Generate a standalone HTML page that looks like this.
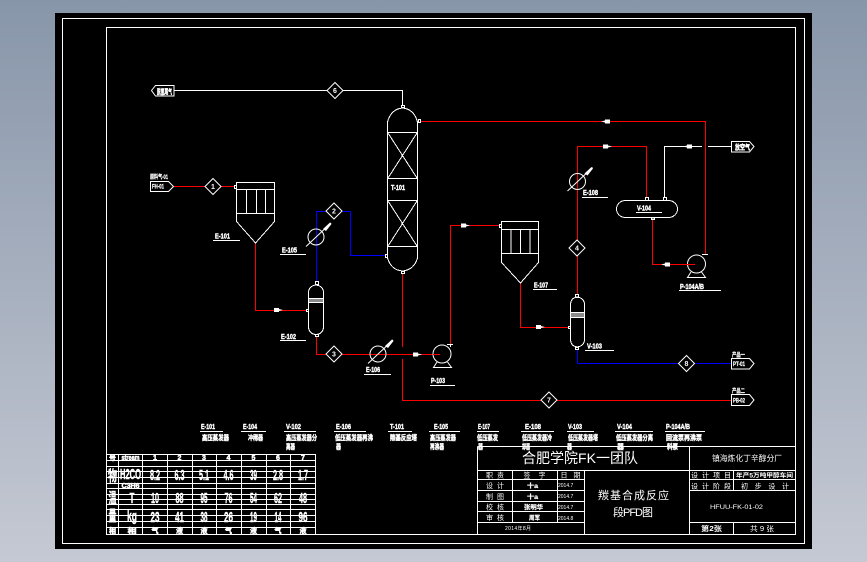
<!DOCTYPE html>
<html><head><meta charset="utf-8"><style>
html,body{margin:0;padding:0;width:867px;height:562px;overflow:hidden}
body{background:linear-gradient(180deg,#8896aa 0,#c5c9d3 100%)}
svg{display:block;position:absolute;left:0;top:0}
text{font-family:"Liberation Sans","Noto Sans CJK SC",sans-serif;fill:#fff}
.w{fill:none;stroke:#fff;stroke-width:1}
.r{fill:none;stroke:#f00;stroke-width:1}
.b{fill:none;stroke:#00f;stroke-width:1}
.l{font-size:7px;font-weight:bold;stroke:#fff;stroke-width:.4}
.s{font-size:6px;font-weight:bold;stroke:#fff;stroke-width:.2}
.d{font-size:7px;text-anchor:middle;font-weight:bold}
.t{font-size:7px;text-anchor:middle}
.c{font-size:7px;font-weight:bold;text-anchor:middle;stroke:#fff;stroke-width:.5}
.g{font-size:15px;font-weight:bold;text-anchor:middle;stroke:#fff;stroke-width:.4}
</style></head><body>
<svg width="867" height="562" viewBox="0 0 867 562" xmlns="http://www.w3.org/2000/svg">
<defs>
<polygon id="ar" points="0,-2 5,-2 5,-1 9,0 5,1 5,2 0,2" fill="#fff"/>
<polygon id="al" points="9,-2 4,-2 4,-1 0,0 4,1 4,2 9,2" fill="#fff"/>
<polygon id="dm" points="0,-8 8,0 0,8 -8,0" fill="#000" stroke="#fff" stroke-width="1"/>
<path id="hx" d="M-10,9.5 L15,-14" fill="none" stroke="#fff"/>
</defs>
<rect x="55" y="13" width="757" height="536" fill="#000"/>
<g shape-rendering="crispEdges">
<rect class="w" x="62.5" y="18.5" width="742" height="525"/>
<rect class="w" x="106.5" y="27.5" width="689" height="507"/>

<!-- streams -->
<path class="w" d="M174,90.5H402.5V106"/>
<path class="r" d="M173,186.5H235"/>
<path class="r" d="M255.5,243V310.5H307"/>
<path class="b" d="M316.5,282V211.5H350.5V255.5H385"/>
<path class="r" d="M316.5,336V354.5H440"/>
<path class="r" d="M402.5,273V347M402.5,359V400.5H731"/>
<path class="r" d="M450.5,345V225.5H499"/>
<path class="r" d="M520.5,283V327.5H568"/>
<path class="b" d="M577.5,349V363.5H731"/>
<path class="r" d="M577.5,295V146.5H646.5V197"/>
<path class="w" d="M664.5,197V146.5H702M708,146.5H731"/>
<path class="r" d="M652.5,219V264.5H695"/>
<path class="r" d="M705.5,255V121.5H420"/>
</g>

<g shape-rendering="crispEdges">
<!-- column T-101 -->
<path class="w" d="M387.5,132V122Q391,109 402.5,108Q414,109 417.5,122V258Q414,270 402.5,271Q391,270 387.5,258V132"/>
<path class="w" d="M387.5,132.5H417.5M387.5,178.5H417.5M387.5,200.5H417.5M387.5,246.5H417.5M388,133L417,178M417,133L388,178M388,201L417,246M417,201L388,246"/>
<rect class="w" x="401.5" y="105.5" width="3" height="2"/>
<rect class="w" x="418.5" y="119.5" width="2" height="3"/>
<rect class="w" x="385.5" y="254.5" width="2" height="3"/>
<rect class="w" x="401.5" y="271.5" width="3" height="2"/>

<!-- filter E-101 -->
<path class="w" d="M236.5,182.5H274.5V221.5L255.5,243L236.5,221.5Z M236.5,189.5H274.5M236.5,213.5H274.5M246.5,189.5V213.5M256.5,189.5V213.5M265.5,189.5V213.5"/>
<rect class="w" x="234.5" y="185.5" width="2" height="3"/>

<!-- V-102 -->
<path class="w" d="M308.5,292Q309,286 316,285Q323,286 323.5,292V327Q323,334 316,334.5Q309,334 308.5,327Z M308.5,298.5H323.5M308.5,302.5H323.5"/>
<path d="M309,299H323V302H309Z" fill="#fff" opacity=".55"/>
<rect class="w" x="315.5" y="281.5" width="3" height="3"/>
<rect class="w" x="315.5" y="334.5" width="3" height="2"/>
<rect class="w" x="306.5" y="309.5" width="2" height="2"/>

<!-- filter E-107 -->
<path class="w" d="M501.5,221.5H538.5V262.5L520.5,283L501.5,262.5Z M501.5,229.5H538.5M501.5,253.5H538.5M511,229.5V253.5M520.5,229.5V253.5M530,229.5V253.5"/>
<rect class="w" x="499.5" y="224.5" width="2" height="3"/>

<!-- V-103 -->
<path class="w" d="M570.5,304Q571,298 577,297Q584,298 584.5,304V340Q584,346 577,347Q571,346 570.5,340Z M570.5,312.5H584.5M570.5,317.5H584.5"/>
<path d="M571,313H584V317H571Z" fill="#fff" opacity=".55"/>
<rect class="w" x="575.5" y="294.5" width="3" height="3"/>
<rect class="w" x="575.5" y="347.5" width="3" height="2"/>
<rect class="w" x="568.5" y="326.5" width="2" height="2"/>

<!-- reflux tank -->
<rect class="w" x="616.5" y="200.5" width="61" height="17" rx="9" ry="8.5"/>
<rect class="w" x="645.5" y="197.5" width="3" height="3"/>
<rect class="w" x="663.5" y="197.5" width="3" height="3"/>
<rect class="w" x="651.5" y="218" width="3" height="1.5"/>
</g>

<!-- exchangers -->
<g>
<circle class="w" cx="316" cy="237" r="8"/><use href="#hx" x="316" y="237"/>
<polygon points="323,229 330,222.5 331.5,224 326,231" fill="#fff"/>
<circle class="w" cx="378" cy="354" r="8"/><use href="#hx" x="378" y="354"/>
<polygon points="385,346 392,339.5 393.5,341 388,348" fill="#fff"/>
<circle class="w" cx="577.5" cy="181.5" r="8"/><use href="#hx" x="577.5" y="181.5"/>
<polygon points="584.5,173.5 591.5,167 593,168.5 587.5,175.5" fill="#fff"/>
<!-- pumps -->
<circle class="w" cx="442" cy="354" r="9"/>
<path class="w" d="M437,362L433.5,367.5H451.5L447.5,362"/>
<path class="w" d="M447,344.5H453M450.5,345V347"/>
<circle class="w" cx="696.5" cy="264" r="9"/>
<path class="w" d="M691,272L687.5,277.5H705.5L701.5,272"/>
<path class="w" d="M702,254.5H708"/>
</g>
<path class="r" d="M433,354.5H440M687,264.5H695" shape-rendering="crispEdges"/>

<!-- arrows -->
<use href="#ar" x="274" y="310"/>
<use href="#ar" x="413" y="354.5"/>
<use href="#ar" x="461" y="225.5"/>
<use href="#ar" x="536" y="327"/>
<use href="#ar" x="603" y="146.5"/>
<use href="#al" x="683" y="146.5"/>
<use href="#al" x="661" y="264.5"/>
<use href="#al" x="601" y="121.5"/>

<!-- diamonds -->
<g><use href="#dm" x="335" y="90.5"/><text class="d" x="335" y="93">6</text>
<use href="#dm" x="213" y="186.5"/><text class="d" x="213" y="189">1</text>
<use href="#dm" x="334" y="211"/><text class="d" x="334" y="213.5">2</text>
<use href="#dm" x="334" y="354"/><text class="d" x="334" y="356.5">3</text>
<use href="#dm" x="577" y="248"/><text class="d" x="577" y="250.5">4</text>
<use href="#dm" x="549" y="400"/><text class="d" x="549" y="402.5">7</text>
<use href="#dm" x="686.5" y="363.5"/><text class="d" x="686.5" y="366">8</text></g>

<!-- tags -->
<g fill="#000" stroke="#fff" stroke-width="1">
<polygon points="151.5,90.5 155.5,85.5 174,85.5 174,96 155.5,96"/>
<polygon points="150.5,181.5 168.5,181.5 173.5,186.5 168.5,191.5 150.5,191.5"/>
<polygon points="731.5,141.5 749.5,141.5 754,146.5 749.5,152 731.5,152"/>
<polygon points="731.5,358.5 749.5,358.5 754,363.5 749.5,369 731.5,369"/>
<polygon points="731.5,394.5 749.5,394.5 754,400 749.5,405.5 731.5,405.5"/>
</g>
<text class="l" x="157" y="94" font-size="8" textLength="15" lengthAdjust="spacingAndGlyphs">脱氢尾气</text>
<text class="s" x="152" y="188.5" textLength="12" lengthAdjust="spacingAndGlyphs">FH-01</text>
<text class="s" x="150" y="179" textLength="18" lengthAdjust="spacingAndGlyphs">原料气-01</text>
<text class="l" x="735" y="149.5" textLength="15" lengthAdjust="spacingAndGlyphs">放空气</text>
<text class="s" x="733" y="366" textLength="12" lengthAdjust="spacingAndGlyphs">PT-01</text>
<text class="s" x="732" y="357" textLength="13" lengthAdjust="spacingAndGlyphs">产品一</text>
<text class="s" x="733" y="402.5" textLength="12" lengthAdjust="spacingAndGlyphs">PB-02</text>
<text class="s" x="732" y="393" textLength="13" lengthAdjust="spacingAndGlyphs">产品二</text>

<!-- equipment labels -->
<g class="lb">
<text class="l" x="391" y="190" textLength="14" lengthAdjust="spacingAndGlyphs">T-101</text>
<text class="l" x="215" y="238.5" textLength="15" lengthAdjust="spacingAndGlyphs">E-101</text>
<text class="l" x="282" y="252.5" textLength="15" lengthAdjust="spacingAndGlyphs">E-105</text>
<text class="l" x="281" y="339" textLength="15" lengthAdjust="spacingAndGlyphs">E-102</text>
<text class="l" x="366" y="372" textLength="14" lengthAdjust="spacingAndGlyphs">E-106</text>
<text class="l" x="431" y="383" textLength="14" lengthAdjust="spacingAndGlyphs">P-103</text>
<text class="l" x="534" y="287.5" textLength="14" lengthAdjust="spacingAndGlyphs">E-107</text>
<text class="l" x="587" y="348.5" textLength="15" lengthAdjust="spacingAndGlyphs">V-103</text>
<text class="l" x="583" y="195" textLength="15" lengthAdjust="spacingAndGlyphs">E-108</text>
<text class="l" x="637" y="210.5" textLength="14" lengthAdjust="spacingAndGlyphs">V-104</text>
<text class="l" x="680" y="289" textLength="24" lengthAdjust="spacingAndGlyphs">P-104A/B</text>
</g>
<path class="w" shape-rendering="crispEdges" d="M213,240.5H240M280,254.5H306M280,340.5H306M364,374.5H391M430,385.5H455M533,289.5H557M585,350.5H614M582,197.5H608M636,212.5H662M679,290.5H721"/>

<!-- equipment list -->
<path class="w" shape-rendering="crispEdges" d="M200,431.5H223M241,431.5H266M284,431.5H316M334,431.5H366M388,431.5H412M429,431.5H460M477,431.5H499M521,431.5H554M567,431.5H594M615,431.5H653M665,431.5H705"/>
<g>
<text class="l" x="201" y="429" textLength="14" lengthAdjust="spacingAndGlyphs">E-101</text>
<text class="l" x="202" y="440" textLength="27" lengthAdjust="spacingAndGlyphs">高压蒸发器</text>
<text class="l" x="243" y="429" textLength="14" lengthAdjust="spacingAndGlyphs">E-104</text>
<text class="l" x="248" y="440" textLength="15" lengthAdjust="spacingAndGlyphs">冲稀器</text>
<text class="l" x="286" y="429" textLength="15" lengthAdjust="spacingAndGlyphs">V-102</text>
<text class="l" x="286" y="440" textLength="31" lengthAdjust="spacingAndGlyphs">高压蒸发器分</text>
<text class="l" x="286" y="449" textLength="9" lengthAdjust="spacingAndGlyphs">离器</text>
<text class="l" x="336" y="429" textLength="15" lengthAdjust="spacingAndGlyphs">E-106</text>
<text class="l" x="335" y="440" textLength="38" lengthAdjust="spacingAndGlyphs">低压蒸发器再沸</text>
<text class="l" x="336" y="449" textLength="5" lengthAdjust="spacingAndGlyphs">器</text>
<text class="l" x="390" y="429" textLength="14" lengthAdjust="spacingAndGlyphs">T-101</text>
<text class="l" x="390" y="440" textLength="27" lengthAdjust="spacingAndGlyphs">羰基反应塔</text>
<text class="l" x="434" y="429" textLength="14" lengthAdjust="spacingAndGlyphs">E-105</text>
<text class="l" x="430" y="440" textLength="26" lengthAdjust="spacingAndGlyphs">高压蒸发器</text>
<text class="l" x="430" y="449" textLength="14" lengthAdjust="spacingAndGlyphs">再沸器</text>
<text class="l" x="478" y="429" textLength="12" lengthAdjust="spacingAndGlyphs">E-107</text>
<text class="l" x="477" y="440" textLength="21" lengthAdjust="spacingAndGlyphs">低压蒸发</text>
<text class="l" x="478" y="449" textLength="5" lengthAdjust="spacingAndGlyphs">器</text>
<text class="l" x="525" y="429" textLength="16" lengthAdjust="spacingAndGlyphs">E-108</text>
<text class="l" x="522" y="440" textLength="30" lengthAdjust="spacingAndGlyphs">低压蒸发器冷</text>
<text class="l" x="522" y="449" textLength="8" lengthAdjust="spacingAndGlyphs">却器</text>
<text class="l" x="568" y="429" textLength="14" lengthAdjust="spacingAndGlyphs">V-103</text>
<text class="l" x="568" y="440" textLength="30" lengthAdjust="spacingAndGlyphs">低压蒸发器塔</text>
<text class="l" x="567" y="449" textLength="5" lengthAdjust="spacingAndGlyphs">器</text>
<text class="l" x="617" y="429" textLength="15" lengthAdjust="spacingAndGlyphs">V-104</text>
<text class="l" x="616" y="440" textLength="37" lengthAdjust="spacingAndGlyphs">低压蒸发器分离</text>
<text class="l" x="617" y="449" textLength="7" lengthAdjust="spacingAndGlyphs">器</text>
<text class="l" x="666" y="429" textLength="24" lengthAdjust="spacingAndGlyphs">P-104A/B</text>
<text class="l" x="666" y="440" textLength="36" lengthAdjust="spacingAndGlyphs">回流泵再沸泵</text>
<text class="l" x="667" y="449" textLength="11" lengthAdjust="spacingAndGlyphs">料泵</text>
</g>

<!-- stream table -->
<g>
<text class="g" x="112.5" y="481" textLength="9" lengthAdjust="spacingAndGlyphs">物</text>
<text class="g" x="112.5" y="503" textLength="8" lengthAdjust="spacingAndGlyphs">温</text>
<text class="g" x="112.5" y="521" textLength="8" lengthAdjust="spacingAndGlyphs">量</text>
<text class="c" x="112.5" y="460">号</text><text class="c" x="112.5" y="533">相</text>
<text class="c" x="130.5" y="460" textLength="18" lengthAdjust="spacingAndGlyphs">stream</text>
<text class="g" x="130.5" y="479" textLength="21" lengthAdjust="spacingAndGlyphs">H2CO</text>
<text class="c" x="130.5" y="488" textLength="18" lengthAdjust="spacingAndGlyphs">C3H6</text>
<text class="g" x="132" y="503" textLength="5" lengthAdjust="spacingAndGlyphs">T</text>
<text class="g" x="132" y="521" textLength="10" lengthAdjust="spacingAndGlyphs">kg</text>
<text class="c" x="132" y="533" textLength="9" lengthAdjust="spacingAndGlyphs">相</text>

<text class="c" x="155" y="460">1</text><text class="g" x="155" y="480" textLength="10" lengthAdjust="spacingAndGlyphs">8.2</text><text class="g" x="155" y="503" textLength="8" lengthAdjust="spacingAndGlyphs">10</text><text class="g" x="155" y="522" textLength="9" lengthAdjust="spacingAndGlyphs">23</text><text class="c" x="155" y="533">气</text>
<text class="c" x="179.5" y="460">2</text><text class="g" x="179.5" y="480" textLength="10" lengthAdjust="spacingAndGlyphs">6.3</text><text class="g" x="179.5" y="503" textLength="8" lengthAdjust="spacingAndGlyphs">88</text><text class="g" x="179.5" y="522" textLength="9" lengthAdjust="spacingAndGlyphs">41</text><text class="c" x="179.5" y="533">液</text>
<text class="c" x="204" y="460">3</text><text class="g" x="204" y="480" textLength="10" lengthAdjust="spacingAndGlyphs">5.1</text><text class="g" x="204" y="503" textLength="7" lengthAdjust="spacingAndGlyphs">95</text><text class="g" x="204" y="522" textLength="7" lengthAdjust="spacingAndGlyphs">38</text><text class="c" x="204" y="533">液</text>
<text class="c" x="228.5" y="460">4</text><text class="g" x="228.5" y="480" textLength="10" lengthAdjust="spacingAndGlyphs">4.6</text><text class="g" x="228.5" y="503" textLength="8" lengthAdjust="spacingAndGlyphs">76</text><text class="g" x="228.5" y="522" textLength="9" lengthAdjust="spacingAndGlyphs">26</text><text class="c" x="228.5" y="533">气</text>
<text class="c" x="253.5" y="460">5</text><text class="g" x="253.5" y="480" textLength="7" lengthAdjust="spacingAndGlyphs">39</text><text class="g" x="253.5" y="503" textLength="7" lengthAdjust="spacingAndGlyphs">54</text><text class="g" x="253.5" y="522" textLength="7" lengthAdjust="spacingAndGlyphs">19</text><text class="c" x="253.5" y="533">液</text>
<text class="c" x="278" y="460">6</text><text class="g" x="278" y="480" textLength="10" lengthAdjust="spacingAndGlyphs">2.8</text><text class="g" x="278" y="503" textLength="8" lengthAdjust="spacingAndGlyphs">62</text><text class="g" x="278" y="522" textLength="7" lengthAdjust="spacingAndGlyphs">14</text><text class="c" x="278" y="533">气</text>
<text class="c" x="303" y="460">7</text><text class="g" x="303" y="480" textLength="10" lengthAdjust="spacingAndGlyphs">1.7</text><text class="g" x="303" y="503" textLength="8" lengthAdjust="spacingAndGlyphs">48</text><text class="g" x="303" y="522" textLength="9" lengthAdjust="spacingAndGlyphs">96</text><text class="c" x="303" y="533">液</text>
</g>
<path class="w" shape-rendering="crispEdges" d="M106.5,454.5H316M106.5,460.5H316M106.5,466.5H316M106.5,471.5H316M106.5,477.5H316M106.5,483.5H316M106.5,488.5H316M106.5,494.5H316M106.5,499.5H316M106.5,504.5H316M106.5,509.5H316M106.5,515.5H316M106.5,521.5H316M106.5,527.5H316
M118.5,454V534M142.5,454V534M167.5,454V534M192.5,454V534M216.5,454V534M241.5,454V534M266.5,454V534M290.5,454V534M315.5,454V534"/>

<!-- title block -->
<path class="w" shape-rendering="crispEdges" d="M477.5,446.5H795M477.5,446.5V534M477.5,470.5H795M477.5,479.5H584M477.5,490.5H584M477.5,501.5H584M477.5,511.5H584M477.5,522.5H584M689.5,479.5H795M689.5,490.5H795M689.5,522.5H795M512.5,470V522M557.5,470V522M584.5,470V534M689.5,446V534M733.5,470V490M733.5,522V534"/>
<text x="522" y="463" font-size="14" textLength="116">合肥学院FK一团队</text>
<text x="712" y="461" font-size="8" textLength="70" lengthAdjust="spacingAndGlyphs">镇海炼化丁辛醇分厂</text>
<text x="598" y="499" font-size="11" textLength="71">羰基合成反应</text>
<text x="613" y="516" font-size="11" textLength="40">段PFD图</text>
<g>
<text class="t" x="495" y="477.5" textLength="18">职 责</text>
<text class="t" x="534.5" y="477.5" textLength="22">签 字</text>
<text class="t" x="570.5" y="477.5" textLength="20">日 期</text>
<text class="t" x="495" y="488" textLength="18">设 计</text>
<text class="t" x="495" y="499" textLength="18">制 图</text>
<text class="t" x="495" y="509.5" textLength="18">校 核</text>
<text class="t" x="495" y="520" textLength="18">审 核</text>
<text class="s" x="527" y="488" textLength="11" lengthAdjust="spacingAndGlyphs">十a</text>
<text class="s" x="527" y="499" textLength="11" lengthAdjust="spacingAndGlyphs">十a</text>
<text class="s" x="524" y="509.5" textLength="19" lengthAdjust="spacingAndGlyphs">张明华</text>
<text class="s" x="529" y="520" textLength="11" lengthAdjust="spacingAndGlyphs">周军</text>
<text font-size="5" x="558" y="487">2014.7</text>
<text font-size="5" x="558" y="498">2014.7</text>
<text font-size="5" x="558" y="509">2014.7</text>
<text font-size="5" x="558" y="520">2014.8</text>
<text font-size="5" x="505" y="530" textLength="26">2014年8月</text>
<text x="691" y="477.5" font-size="7" textLength="40">设 计 项 目</text>
<text x="691" y="488.5" font-size="7" textLength="40">设 计 阶 段</text>
<text x="736" y="477.5" font-size="6" font-weight="bold" textLength="57" lengthAdjust="spacingAndGlyphs">年产5万吨甲醇车间</text>
<text x="741" y="488.5" font-size="7" textLength="48">初 步 设 计</text>
<text x="710" y="509" font-size="6" textLength="53" lengthAdjust="spacingAndGlyphs">HFUU-FK-01-02</text>
<text x="701" y="531" font-size="7" font-weight="bold" textLength="21" lengthAdjust="spacingAndGlyphs">第2张</text>
<text x="750" y="531" font-size="7" textLength="24" lengthAdjust="spacingAndGlyphs">共 9 张</text>
</g>
</svg>
</body></html>
